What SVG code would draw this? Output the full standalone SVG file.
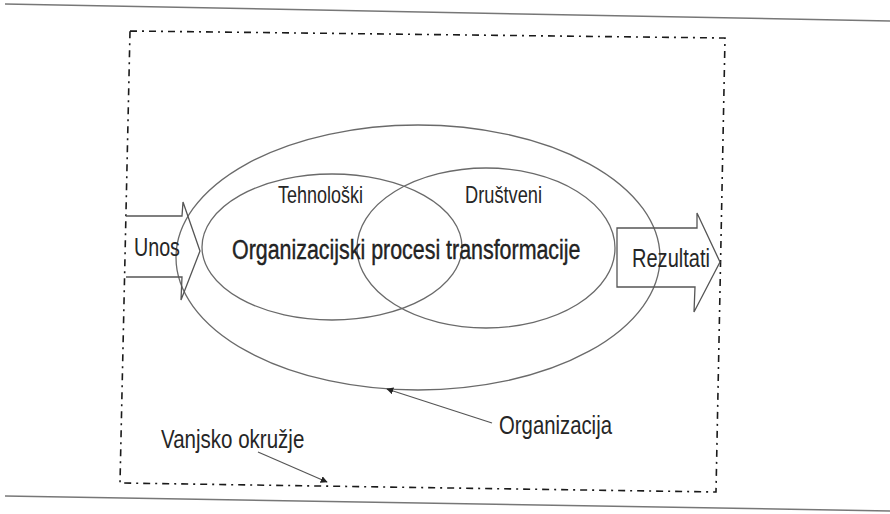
<svg xmlns="http://www.w3.org/2000/svg" width="890" height="514" viewBox="0 0 890 514">
  <style>
    .t { font-family: "Liberation Sans", Arial, sans-serif; fill: #262626; }
    .ell { fill: none; stroke: #6a6a6a; stroke-width: 1.3; }
    .arr { fill: none; stroke: #555; stroke-width: 1.3; stroke-linejoin: miter; }
    .border { fill: none; stroke: #1a1a1a; stroke-width: 1.6; stroke-dasharray: 7 5 2 5; }
    .rule { stroke: #777; stroke-width: 1.5; }
    .lead { stroke: #555; stroke-width: 1.2; fill: none; }
  </style>
  <defs>
    <marker id="ah" viewBox="0 0 10 10" refX="9" refY="5" markerWidth="7" markerHeight="7" orient="auto" markerUnits="userSpaceOnUse">
      <path d="M0,0 L10,5 L0,10 z" fill="#222"/>
    </marker>
  </defs>
  <rect width="890" height="514" fill="#fff"/>
  <line class="rule" x1="5" y1="4" x2="890" y2="21"/>
  <line class="rule" x1="5" y1="496" x2="890" y2="511"/>

  <g id="vanjsko-okruzje">
    <polygon class="border" points="130,31 725,38 716,492 120,483"/>
    <text class="t" transform="translate(161,448) scale(0.79,1)" font-size="26">Vanjsko okružje</text>
  </g>

  <g id="organizacija">
    <ellipse class="ell" cx="418" cy="257.5" rx="242" ry="132.5"/>
    <text class="t" transform="translate(499,434) scale(0.782,1)" font-size="26">Organizacija</text>
  </g>

  <g id="tehnoloski">
    <ellipse class="ell" cx="332" cy="247" rx="130" ry="73"/>
    <text class="t" transform="translate(278,203) scale(0.782,1)" font-size="23">Tehnološki</text>
  </g>

  <g id="drustveni">
    <ellipse class="ell" cx="486" cy="248" rx="129" ry="80"/>
    <text class="t" transform="translate(465,203) scale(0.793,1)" font-size="23">Društveni</text>
  </g>

  <g id="procesi">
    <text class="t" transform="translate(232,259) scale(0.765,1)" font-size="28" fill="#111" stroke="#111" stroke-width="0.4">Organizacijski procesi transformacije</text>
  </g>

  <g id="unos">
    <path class="arr" d="M126,216 L182,216 L183,202 L200,251 L181,300 L182,277 L126,277"/>
    <text class="t" transform="translate(134,256) scale(0.758,1)" font-size="26">Unos</text>
  </g>

  <g id="rezultati">
    <path class="arr" d="M617,228 L697,228 L697,213 L720,262 L694,312 L695,287 L617,287 Z"/>
    <text class="t" transform="translate(632,267) scale(0.771,1)" font-size="26">Rezultati</text>
  </g>

  <g id="connectors">
    <line class="lead" x1="492" y1="423" x2="387" y2="389" marker-end="url(#ah)"/>
    <line class="lead" x1="258" y1="452" x2="327" y2="482" marker-end="url(#ah)"/>
  </g>
</svg>
